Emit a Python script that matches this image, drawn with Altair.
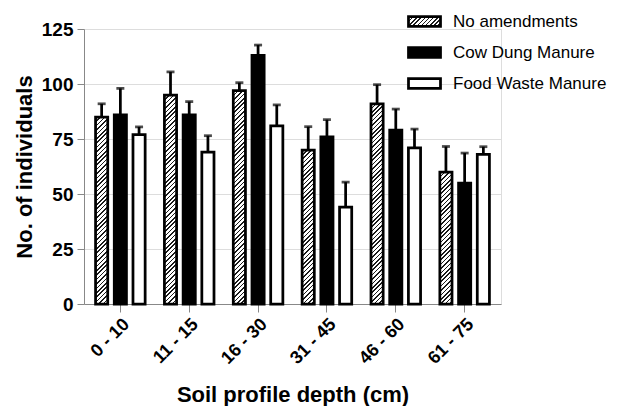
import json
import altair as alt

# ---- data ----
depths = ["0 - 10", "11 - 15", "16 - 30", "31 - 45", "46 - 60", "61 - 75"]
treatments = ["No amendments", "Cow Dung Manure", "Food Waste Manure"]
no_amend = [85, 95, 97, 70, 91, 60]
no_amend_err = [6, 10.5, 3.6, 10.6, 8.7, 11.6]
cow_dung = [86, 86, 113, 76, 79, 55]
cow_dung_err = [12, 6, 4.7, 7.8, 9.6, 13.6]
food_waste = [77, 69, 81, 44, 71, 68]
food_waste_err = [3.5, 7.5, 9.5, 11.4, 8.5, 3.5]
y_ticks = [0, 25, 50, 75, 100, 125]

# ---- layout constants ----
W, H = 417, 275
YMAX = 125
PAD_IN, PAD_OUT = 0.28, 0.168
OFF_PAD = 0.35
FONT = "Liberation Sans"
LINE = 2.75

step = W / (len(depths) - PAD_IN + 2 * PAD_OUT)
band = step * (1 - PAD_IN)
bar_w = band / (len(treatments) - OFF_PAD) * (1 - OFF_PAD)


def hatch(w, h, period=4.4, frac=0.36, ink="#1a1a1a", paper="white"):
    """Linear gradient producing '////' hatching inside a w x h box."""
    L = w + h
    lam = L / (w * w + h * h)
    stops = []
    i = 0
    while i * period < L:
        a = i * period / L
        b = min((i * period + frac * period) / L, 1)
        c = min((i + 1) * period / L, 1)
        stops += [
            {"offset": round(a, 5), "color": ink},
            {"offset": round(b, 5), "color": ink},
            {"offset": round(b, 5), "color": paper},
            {"offset": round(c, 5), "color": paper},
        ]
        i += 1
    return {"gradient": "linear", "x1": 0, "y1": 0,
            "x2": round(lam * w, 6), "y2": round(lam * h, 6), "stops": stops}


series = {
    treatments[0]: (no_amend, no_amend_err),
    treatments[1]: (cow_dung, cow_dung_err),
    treatments[2]: (food_waste, food_waste_err),
}

rows = []
for i, d in enumerate(depths):
    for t in treatments:
        vals, errs = series[t]
        v, e = vals[i], errs[i]
        if t == treatments[0]:
            fill = hatch(bar_w, v * H / YMAX)
        elif t == treatments[1]:
            fill = "black"
        else:
            fill = "white"
        rows.append({"depth": d, "treatment": t, "value": v,
                     "top": v + e, "fill": fill})

data = alt.Data(values=rows)

legend_grad = json.dumps(hatch(32, 9.6, period=4.2))
legend_fill = ("datum.value == '%s' ? %s : (datum.value == '%s' ? 'black' : 'white')"
               % (treatments[0], legend_grad, treatments[1]))

x_enc = alt.X("depth:N", sort=depths,
              scale=alt.Scale(paddingInner=PAD_IN, paddingOuter=PAD_OUT),
              axis=alt.Axis(title="Soil profile depth (cm)", labelAngle=-45,
                            labelFontSize=18, labelFontWeight="bold",
                            titleFontSize=22, titleFontWeight="bold",
                            titlePadding=17, labelPadding=3, tickSize=8))
xoff_enc = alt.XOffset("treatment:N", sort=treatments,
                       scale=alt.Scale(domain=treatments, paddingInner=OFF_PAD,
                                       paddingOuter=0))
y_scale = alt.Scale(domain=[0, YMAX], nice=False)

base = alt.Chart(data)

err_rule = base.mark_rule(color="black", strokeWidth=LINE).encode(
    x=x_enc, xOffset=xoff_enc,
    y=alt.Y("value:Q", scale=y_scale),
    y2="top:Q",
)
err_cap = base.mark_tick(color="black", thickness=LINE, size=8,
                         orient="horizontal").encode(
    x=x_enc, xOffset=xoff_enc,
    y=alt.Y("top:Q", scale=y_scale),
)
bars = base.mark_bar(strokeWidth=LINE).encode(
    x=x_enc, xOffset=xoff_enc,
    y=alt.Y("value:Q", scale=y_scale,
            axis=alt.Axis(title="No. of individuals", values=y_ticks,
                          labelFontSize=19, labelFontWeight="bold",
                          titleFontSize=22, titleFontWeight="bold",
                          titlePadding=5, labelPadding=4, tickSize=7)),
    fill=alt.Fill("fill:N", scale=None),
    stroke=alt.Stroke("treatment:N",
                      scale=alt.Scale(domain=treatments,
                                      range=["black", "black", "black"]),
                      legend=alt.Legend(
                          title=None, orient="none", legendX=323, legendY=-25,
                          symbolType="M-1,-0.3H1V0.3H-1Z", symbolSize=1024,
                          symbolStrokeWidth=LINE, symbolStrokeColor="black",
                          symbolFillColor=alt.ExprRef(legend_fill),
                          labelFontSize=17,
                          labelFont=FONT, labelOffset=11, padding=0,
                          rowPadding=3)),
)

chart = alt.layer(err_rule, err_cap, bars).properties(
    width=W, height=H
).configure_view(stroke=None).configure_axis(
    labelFont=FONT, titleFont=FONT, grid=False,
    domainColor="black", domainWidth=2.5,
    tickColor="black", tickWidth=2,
    labelColor="black", titleColor="black",
).configure(padding={"left": 5, "top": -4, "right": 5, "bottom": 0})

chart.save("out.html", embed_options={"renderer": "svg", "actions": False})
